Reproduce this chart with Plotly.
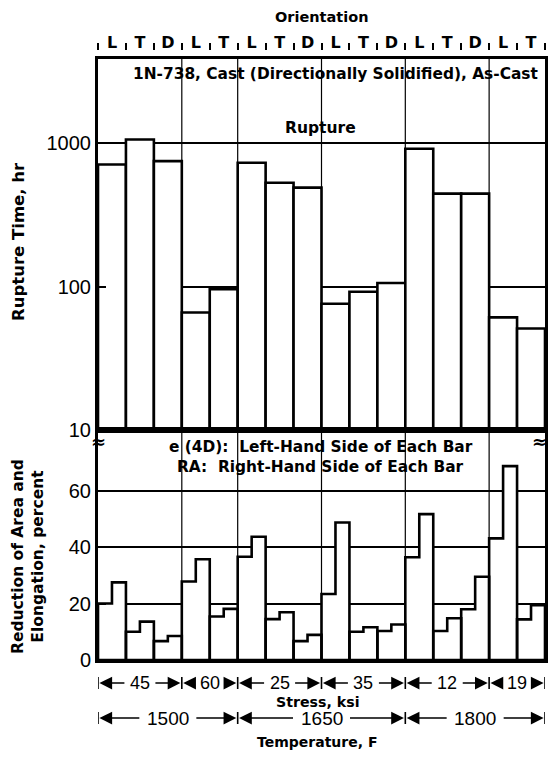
import plotly.graph_objects as go

# ---- data -------------------------------------------------------------
orientation = ["L", "T", "D", "L", "T", "L", "T", "D",
               "L", "T", "D", "L", "T", "D", "L", "T"]
rupture_hr = [710, 1060, 750, 66, 96, 730, 530, 490,
              76, 92, 106, 915, 445, 445, 61, 51]
elong_pct = [20.0, 10.0, 6.7, 27.8, 15.4, 36.6, 14.5, 6.7,
             23.4, 10.0, 10.3, 36.4, 10.3, 18.0, 43.1, 14.4]
ra_pct = [27.5, 13.6, 8.5, 35.7, 18.1, 43.7, 16.9, 8.9,
          48.7, 11.6, 12.6, 51.7, 14.8, 29.5, 68.7, 19.4]
stress_ksi = ["45", "60", "25", "35", "12", "19"]
bars_per_stress = [3, 2, 3, 3, 3, 2]
temperature_f = ["1500", "1650", "1800"]
stresses_per_temp = [2, 2, 2]

# ---- geometry ---------------------------------------------------------
W, H = 549, 773
ML, MR = 98, 4
FRAME_TOP, SPLIT, FRAME_BOT = 59, 430, 660
DECADE_PX = 143.4          # pixels per decade on the rupture axis
PCT_PX = 2.822             # pixels per percent on the ductility axis
PLOT_W = W - ML - MR

n = len(orientation)
centers = [i + 0.5 for i in range(n)]
unit_px = PLOT_W / n


def py(px):
    """pixel row -> paper y"""
    return 1 - px / H


def pxp(px):
    """pixel column -> paper x"""
    return (px - ML) / PLOT_W


stress_edges = [0]
for c in bars_per_stress:
    stress_edges.append(stress_edges[-1] + c)
temp_edges = [0]
k = 0
for c in stresses_per_temp:
    k += c
    temp_edges.append(stress_edges[k])

BLACK = "black"
FONT = "Liberation Sans"
LABEL_FONT = "DejaVu Sans"

fig = go.Figure()

# rupture time bars (log axis)
fig.add_trace(go.Bar(
    x=centers, y=rupture_hr, width=1,
    marker=dict(color="white", line=dict(color=BLACK, width=2.6)),
    xaxis="x", yaxis="y", hoverinfo="skip"))

# ductility bars: elongation on the left half, RA on the right half
xs, ys = [], []
for i, (e, ra) in enumerate(zip(elong_pct, ra_pct)):
    xs += [i, i, i + 0.5, i + 0.5, i + 1, i + 1, i, None]
    ys += [0, e, e, ra, ra, 0, 0, None]
fig.add_trace(go.Scatter(
    x=xs, y=ys, mode="lines", fill="toself", fillcolor="white",
    line=dict(color=BLACK, width=2.6), xaxis="x2", yaxis="y2",
    hoverinfo="skip"))

# carrier for the orientation separator ticks
fig.add_trace(go.Scatter(x=[0], y=[100], xaxis="x3", yaxis="y",
                         mode="markers", marker=dict(opacity=0),
                         hoverinfo="skip"))

frame = dict(showline=True, mirror=True, linecolor=BLACK, linewidth=3,
             zeroline=False)

fig.update_layout(
    width=W, height=H,
    margin=dict(l=ML, r=MR, t=0, b=0, pad=0, autoexpand=False),
    paper_bgcolor="white", plot_bgcolor="white", showlegend=False,
    font=dict(family=FONT, color=BLACK),
    xaxis=dict(domain=[0, 1], range=[0, n], anchor="y", side="top",
               tickvals=centers, ticktext=orientation, ticks="",
               showgrid=False, ticklabelstandoff=2,
               tickfont=dict(family=LABEL_FONT, size=16, color=BLACK,
                             weight="bold"),
               automargin=False, **frame),
    yaxis=dict(domain=[py(SPLIT), py(FRAME_TOP)], type="log",
               range=[1, 1 + (SPLIT - FRAME_TOP) / DECADE_PX],
               tickvals=[10, 100, 1000], ticktext=["10", "100", "1000"],
               ticks="inside", ticklen=8, tickwidth=2, tickcolor=BLACK,
               showgrid=True, gridcolor=BLACK, gridwidth=1.6,
               tickfont=dict(family=FONT, size=20, color=BLACK),
               automargin=False, **frame),
    xaxis2=dict(domain=[0, 1], range=[0, n], anchor="y2",
                showticklabels=False, ticks="", showgrid=False,
                automargin=False, **frame),
    yaxis2=dict(domain=[py(FRAME_BOT), py(SPLIT)],
                range=[0, (FRAME_BOT - SPLIT) / PCT_PX],
                tickvals=[0, 20, 40, 60], ticks="inside", ticklen=8,
                tickwidth=2, tickcolor=BLACK,
                showgrid=True, gridcolor=BLACK, gridwidth=2,
                tickfont=dict(family=FONT, size=20, color=BLACK),
                automargin=False, **frame),
    xaxis3=dict(overlaying="x", anchor="free", position=py(50), side="top",
                range=[0, n], tickvals=list(range(n + 1)), ticks="outside",
                ticklen=7, tickwidth=1.5, tickcolor=BLACK,
                showticklabels=False, showline=False, showgrid=False,
                zeroline=False, automargin=False),
)

# vertical lines between stress groups, through both panels
for b in stress_edges[1:-1]:
    fig.add_shape(type="line", xref="x", yref="paper", x0=b, x1=b,
                  y0=py(FRAME_BOT), y1=py(FRAME_TOP),
                  line=dict(color=BLACK, width=1.2), layer="below")

ann = []


def text(s, xpix, ypix, size=14, angle=0):
    ann.append(dict(text=f"<b>{s}</b>", x=pxp(xpix), y=py(ypix),
                    xref="paper", yref="paper", showarrow=False,
                    xanchor="center", yanchor="middle", textangle=angle,
                    font=dict(family=LABEL_FONT, size=size, color=BLACK)))


text("Orientation", 322, 17, 14.5)
text("1N-738, Cast (Directionally Solidified), As-Cast", 335, 74, 15.4)
text("Rupture", 320, 128, 15.5)
text("e (4D):  Left-Hand Side of Each Bar", 321, 447, 15.4)
text("RA:  Right-Hand Side of Each Bar", 320, 467, 15.4)
text("Stress, ksi", 318, 702, 14.2)
text("Temperature, F", 317, 742, 14)
text("Rupture Time, hr", 19, 242, 16.5, angle=-90)
text("Reduction of Area and<br>Elongation, percent", 28, 557, 15.5,
     angle=-90)

# axis break marks
for xp, anchor, shift in ((0, "center", 0), (1, "right", 4)):
    ann.append(dict(text="<b>≈</b>", x=xp, y=py(442), xref="paper",
                    yref="paper", showarrow=False, xanchor=anchor,
                    xshift=shift, yanchor="middle",
                    font=dict(family="DejaVu Sans", size=18, color=BLACK)))


def span_row(edges, labels, ypix, size, label_px):
    """|<-- label -->| style dimension row under the x axis"""
    for a, b, lab in zip(edges[:-1], edges[1:], labels):
        c = (a + b) / 2
        gap = (label_px / 2 + 4) / unit_px
        ann.append(dict(text=lab, x=c, y=py(ypix), xref="x2", yref="paper",
                        showarrow=False, xanchor="center", yanchor="middle",
                        font=dict(family=FONT, size=size, color=BLACK)))
        for tip, tail in ((a + 0.05, c - gap), (b - 0.05, c + gap)):
            ann.append(dict(text="", x=tip, y=py(ypix), xref="x2",
                            yref="paper", ax=tail, ay=0, axref="x2",
                            ayref="pixel", showarrow=True, arrowhead=2,
                            arrowsize=1.7, arrowwidth=1.5, arrowcolor=BLACK,
                            standoff=0, startstandoff=0))
    for e in edges:
        fig.add_shape(type="line", xref="x2", yref="paper", x0=e, x1=e,
                      y0=py(ypix + 6), y1=py(ypix - 6),
                      line=dict(color=BLACK, width=1.6))


span_row(stress_edges, stress_ksi, 683, 18, 20)
span_row(temp_edges, temperature_f, 718, 19, 46)

fig.update_layout(annotations=ann)
fig.write_html("out.html")
